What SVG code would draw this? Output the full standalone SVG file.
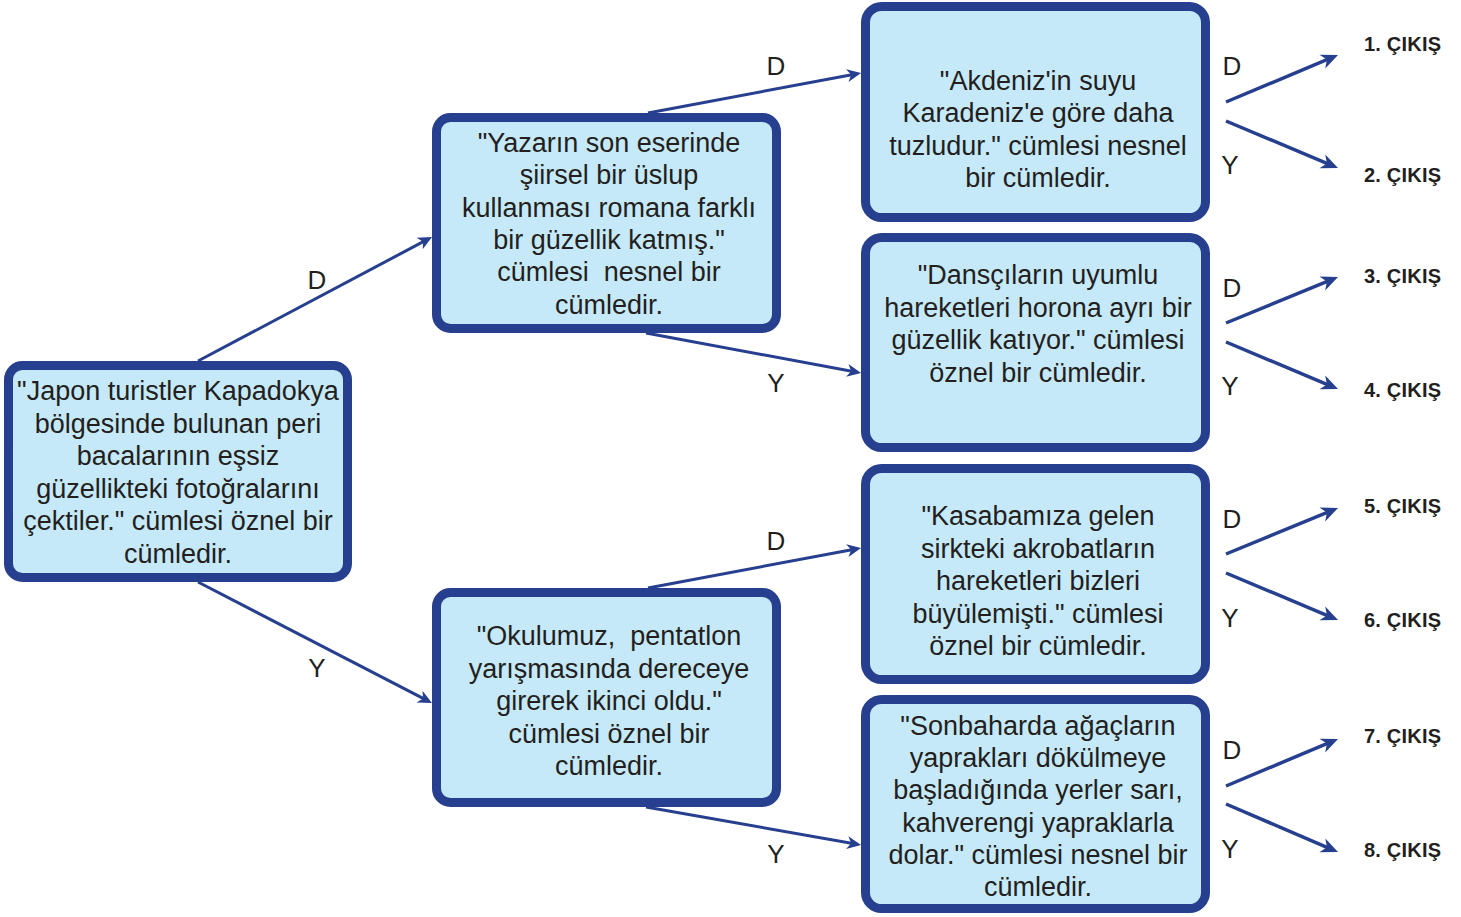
<svg xmlns="http://www.w3.org/2000/svg" width="1461" height="917" viewBox="0 0 1461 917">
<style>
.box{fill:#c6e9f9;stroke:#263f8f;stroke-width:9}
.t{font-family:"Liberation Sans",Arial,sans-serif;font-size:27px;fill:#231f20;text-anchor:middle;white-space:pre}
.lbl{font-family:"Liberation Sans",Arial,sans-serif;font-size:26px;fill:#231f20;text-anchor:middle}
.exit{font-family:"Liberation Sans",Arial,sans-serif;font-size:20px;font-weight:bold;fill:#231f20;letter-spacing:0.2px}
.c{stroke:#263f8f;stroke-width:3;fill:none;marker-end:url(#ah)}
.r{stroke:#263f8f;stroke-width:3.5;fill:none;marker-end:url(#ahb)}
</style>
<defs>
<marker id="ah" markerUnits="userSpaceOnUse" viewBox="-15 -10 25 20" markerWidth="25" markerHeight="20" refX="0" refY="0" orient="auto" overflow="visible">
<path d="M4,0 L-10,-6.5 L-6,0 L-10,6.5 Z" fill="#263f8f"/>
</marker>
<marker id="ahb" markerUnits="userSpaceOnUse" viewBox="-15 -10 25 20" markerWidth="25" markerHeight="20" refX="0" refY="0" orient="auto" overflow="visible">
<path d="M5,0 L-12,-7.5 L-7,0 L-12,7.5 Z" fill="#263f8f"/>
</marker>
</defs>

<g id="connectors">
<line class="c" x1="198" y1="361" x2="428.5" y2="238.9"/>
<line class="c" x1="198" y1="582" x2="428.4" y2="701.2"/>
<line class="c" x1="648" y1="113" x2="857.1" y2="73.7"/>
<line class="c" x1="646" y1="333" x2="857.1" y2="372.3"/>
<line class="c" x1="648" y1="588" x2="857.1" y2="548.7"/>
<line class="c" x1="646" y1="807" x2="857.1" y2="844.3"/>
<line class="r" x1="1226" y1="102" x2="1333.4" y2="56.9"/>
<line class="r" x1="1226" y1="121" x2="1333.4" y2="166.1"/>
<line class="r" x1="1226" y1="323" x2="1333.4" y2="278.9"/>
<line class="r" x1="1226" y1="342" x2="1333.4" y2="387.1"/>
<line class="r" x1="1226" y1="554" x2="1333.4" y2="509.9"/>
<line class="r" x1="1226" y1="573" x2="1333.4" y2="618.1"/>
<line class="r" x1="1226" y1="786" x2="1333.4" y2="740.9"/>
<line class="r" x1="1226" y1="804" x2="1333.4" y2="850.1"/>
</g>

<g id="labels">
<text class="lbl" x="317" y="289">D</text>
<text class="lbl" x="317" y="677">Y</text>
<text class="lbl" x="776" y="75">D</text>
<text class="lbl" x="776" y="392">Y</text>
<text class="lbl" x="776" y="550">D</text>
<text class="lbl" x="776" y="863">Y</text>
<text class="lbl" x="1232" y="75">D</text>
<text class="lbl" x="1230" y="174">Y</text>
<text class="lbl" x="1232" y="297">D</text>
<text class="lbl" x="1230" y="395">Y</text>
<text class="lbl" x="1232" y="528">D</text>
<text class="lbl" x="1230" y="627">Y</text>
<text class="lbl" x="1232" y="759">D</text>
<text class="lbl" x="1230" y="858">Y</text>
</g>

<g id="root">
<rect class="box" x="8.5" y="365.5" width="339" height="212" rx="14"/>
<text class="t" x="178" y="400">"Japon turistler Kapadokya</text>
<text class="t" x="178" y="432.5">bölgesinde bulunan peri</text>
<text class="t" x="178" y="465">bacalarının eşsiz</text>
<text class="t" x="178" y="497.5">güzellikteki fotoğralarını</text>
<text class="t" x="178" y="530">çektiler." cümlesi öznel bir</text>
<text class="t" x="178" y="562.5">cümledir.</text>
</g>

<g id="n-yazarin">
<rect class="box" x="436.5" y="117.5" width="340" height="211" rx="14"/>
<text class="t" x="609" y="152">"Yazarın son eserinde</text>
<text class="t" x="609" y="184.3">şiirsel bir üslup</text>
<text class="t" x="609" y="216.6">kullanması romana farklı</text>
<text class="t" x="609" y="248.9">bir güzellik katmış."</text>
<text class="t" x="609" y="281.2">cümlesi  nesnel bir</text>
<text class="t" x="609" y="313.5">cümledir.</text>
</g>

<g id="n-okulumuz">
<rect class="box" x="436.5" y="592.5" width="340" height="210" rx="14"/>
<text class="t" x="609" y="645">"Okulumuz,  pentatlon</text>
<text class="t" x="609" y="677.5">yarışmasında dereceye</text>
<text class="t" x="609" y="710">girerek ikinci oldu."</text>
<text class="t" x="609" y="742.5">cümlesi öznel bir</text>
<text class="t" x="609" y="775">cümledir.</text>
</g>

<g id="n-akdeniz">
<rect class="box" x="865.5" y="6.5" width="340" height="211" rx="16"/>
<text class="t" x="1038" y="90">"Akdeniz'in suyu</text>
<text class="t" x="1038" y="122">Karadeniz'e göre daha</text>
<text class="t" x="1038" y="154.5">tuzludur." cümlesi nesnel</text>
<text class="t" x="1038" y="186.5">bir cümledir.</text>
</g>

<g id="n-danscilar">
<rect class="box" x="865.5" y="237.5" width="340" height="210" rx="16"/>
<text class="t" x="1038" y="284">"Dansçıların uyumlu</text>
<text class="t" x="1038" y="316.5">hareketleri horona ayrı bir</text>
<text class="t" x="1038" y="349">güzellik katıyor." cümlesi</text>
<text class="t" x="1038" y="381.5">öznel bir cümledir.</text>
</g>

<g id="n-kasaba">
<rect class="box" x="865.5" y="468.5" width="340" height="211" rx="16"/>
<text class="t" x="1038" y="525">"Kasabamıza gelen</text>
<text class="t" x="1038" y="557.5">sirkteki akrobatların</text>
<text class="t" x="1038" y="590">hareketleri bizleri</text>
<text class="t" x="1038" y="622.5">büyülemişti." cümlesi</text>
<text class="t" x="1038" y="655">öznel bir cümledir.</text>
</g>

<g id="n-sonbahar">
<rect class="box" x="865.5" y="699.5" width="340" height="209" rx="16"/>
<text class="t" x="1038" y="735">"Sonbaharda ağaçların</text>
<text class="t" x="1038" y="767.2">yaprakları dökülmeye</text>
<text class="t" x="1038" y="799.4">başladığında yerler sarı,</text>
<text class="t" x="1038" y="831.6">kahverengi yapraklarla</text>
<text class="t" x="1038" y="863.8">dolar." cümlesi nesnel bir</text>
<text class="t" x="1038" y="896">cümledir.</text>
</g>

<g id="exits">
<text class="exit" x="1364" y="51">1. ÇIKIŞ</text>
<text class="exit" x="1364" y="182">2. ÇIKIŞ</text>
<text class="exit" x="1364" y="283">3. ÇIKIŞ</text>
<text class="exit" x="1364" y="397">4. ÇIKIŞ</text>
<text class="exit" x="1364" y="513">5. ÇIKIŞ</text>
<text class="exit" x="1364" y="627">6. ÇIKIŞ</text>
<text class="exit" x="1364" y="743">7. ÇIKIŞ</text>
<text class="exit" x="1364" y="857">8. ÇIKIŞ</text>
</g>
</svg>
